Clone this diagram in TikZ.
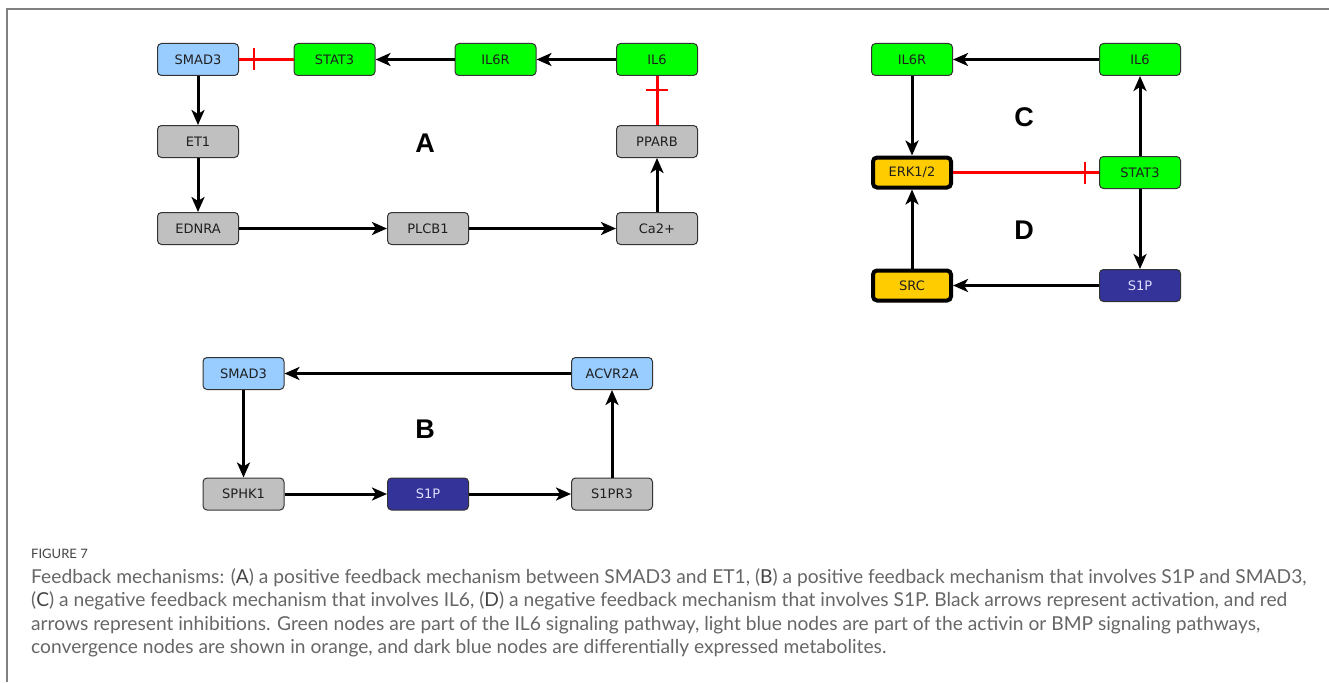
\documentclass[tikz,border=0pt]{standalone}
\usepackage{fontspec}
\setmainfont{DejaVu Sans}
\newfontfamily\labfont{Liberation Sans}
\newfontfamily\capfont{Lato}
\usetikzlibrary{arrows.meta,calc}
\definecolor{lblue}{HTML}{99CCFF}
\definecolor{gnode}{HTML}{00FF00}
\definecolor{grnode}{HTML}{C0C0C0}
\definecolor{dblue}{HTML}{333399}
\definecolor{orng}{HTML}{FFCC00}
\definecolor{framegray}{HTML}{808080}
\definecolor{captext}{HTML}{666666}
\definecolor{capdark}{HTML}{444444}
\newcommand{\capL}[1]{\textcolor{capdark}{#1}}
\begin{document}
\begin{tikzpicture}[x=1pt,y=-1pt,
 box/.style={draw=black!80,line width=1pt,rounded corners=4pt,minimum width=81pt,minimum height=32pt,inner sep=0pt,font=\fontsize{13}{15}\selectfont,text=black!88},
 lb/.style={box,fill=lblue},
 gr/.style={box,fill=gnode},
 gy/.style={box,fill=grnode},
 db/.style={box,fill=dblue,text=white!88!blue},
 conv/.style={box,fill=orng,line width=4pt,draw=black,minimum width=78pt,minimum height=30pt},
 act/.style={line width=3pt,-{Stealth[length=15pt,width=13pt,inset=4pt]}},
 inh/.style={red,line width=3pt},
 inhc/.style={red,line width=2.5pt},
 tbar/.style={red,line width=1.5pt},
 lab/.style={font=\labfont\bfseries\fontsize{27}{30}\selectfont},
 capline/.style={anchor=base west,inner sep=0pt,text=captext,font=\capfont\fontsize{19.2}{23}\selectfont}
]
\useasboundingbox (0,0) rectangle (1329,682);
\draw[framegray,line width=1.5pt] (7,682) -- (7,9) -- (1329,9);

% ---- A ----
\node[lb] (sm3a) at (198,59.5) {SMAD3};
\node[gr] (stat3a) at (334.5,59.5) {STAT3};
\node[gr] (il6ra) at (495.5,59.5) {IL6R};
\node[gr] (il6a) at (657,59.5) {IL6};
\node[gy] (et1) at (198,141.5) {ET1};
\node[gy] (ednra) at (198,228.5) {EDNRA};
\node[gy] (plcb1) at (428,228.5) {PLCB1};
\node[gy] (pparb) at (657,141.5) {PPARB};
\node[gy] (ca) at (657,228.5) {Ca2+};
\node[lab] (labA) at (425,143) {A};

\draw[act] (sm3a) -- (et1);
\draw[act] (et1) -- (ednra);
\draw[act] (ednra) -- (plcb1);
\draw[act] (plcb1) -- (ca);
\draw[act] (ca) -- (pparb);
\draw[inh] (pparb) -- (il6a);
\draw[tbar] ($(il6a.south)+(-11,14)$) -- ($(il6a.south)+(11,14)$);
\draw[act] (il6a) -- (il6ra);
\draw[act] (il6ra) -- (stat3a);
\draw[inh] (stat3a) -- (sm3a);
\draw[tbar] ($(sm3a.east)+(15,-11)$) -- ($(sm3a.east)+(15,11)$);

% ---- C / D ----
\node[gr] (il6rc) at (912,59.5) {IL6R};
\node[gr] (il6c) at (1140,59.5) {IL6};
\node[conv] (erk) at (912,172.5) {ERK1/2};
\node[gr] (stat3c) at (1140,172.5) {STAT3};
\node[conv] (src) at (912,285.5) {SRC};
\node[db] (s1pc) at (1140,285.5) {S1P};
\node[lab] (labC) at (1024,117) {C};
\node[lab] (labD) at (1024,230) {D};

\draw[act] (il6c) -- (il6rc);
\draw[act] (il6rc) -- (erk);
\draw[act] (stat3c) -- (il6c);
\draw[inhc] (erk) -- (stat3c);
\draw[tbar] ($(stat3c.west)+(-14,-11)$) -- ($(stat3c.west)+(-14,11)$);
\draw[act] (stat3c) -- (s1pc);
\draw[act] (s1pc) -- (src);
\draw[act] (src) -- (erk);

% ---- B ----
\node[lb] (sm3b) at (243.5,373.5) {SMAD3};
\node[lb] (acvr) at (612,373.5) {ACVR2A};
\node[gy] (sphk) at (243.5,494) {SPHK1};
\node[db] (s1pb) at (428,494) {S1P};
\node[gy] (s1pr3) at (612,494) {S1PR3};
\node[lab] (labB) at (425,429) {B};

\draw[act] (acvr) -- (sm3b);
\draw[act] (sm3b) -- (sphk);
\draw[act] (sphk) -- (s1pb);
\draw[act] (s1pb) -- (s1pr3);
\draw[act] (s1pr3) -- (acvr);

% ---- caption ----
\node[anchor=base west,inner sep=0pt,text=capdark,font=\capfont\fontsize{13}{15}\selectfont] (fig) at (31,558) {FIGURE 7};
\node[capline] (cap1) at (31,583) {Feedback mechanisms: (\capL{A}) a positive feedback mechanism between SMAD3 and ET1, (\capL{B}) a positive feedback mechanism that involves S1P and SMAD3,};
\node[capline] (cap2) at (31,606.5) {(\capL{C}) a negative feedback mechanism that involves IL6, (\capL{D}) a negative feedback mechanism that involves S1P. Black arrows represent activation, and red};
\node[capline] (cap3) at (31,630) {arrows represent inhibitions. Green nodes are part of the IL6 signaling pathway, light blue nodes are part of the activin or BMP signaling pathways,};
\node[capline] (cap4) at (31,653.5) {convergence nodes are shown in orange, and dark blue nodes are differentially expressed metabolites.};
\end{tikzpicture}
\end{document}
